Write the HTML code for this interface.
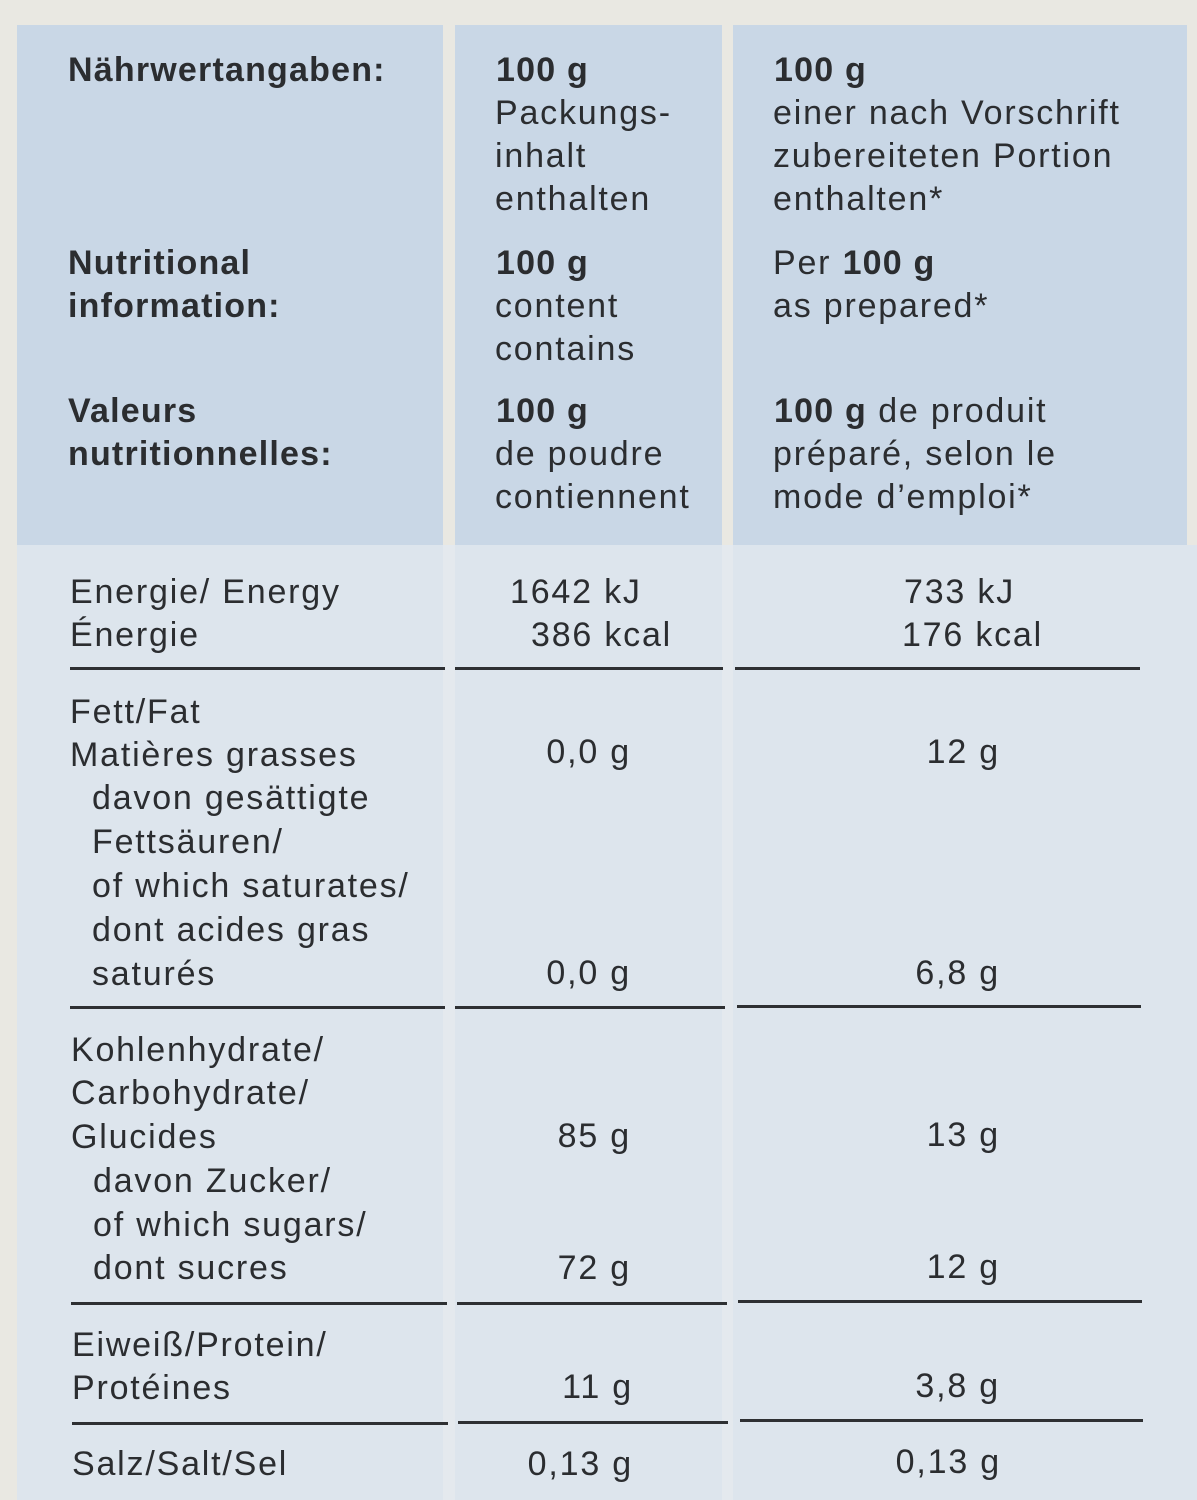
<!DOCTYPE html>
<html><head><meta charset="utf-8"><style>
html,body{margin:0;padding:0}
body{width:1197px;height:1500px;position:relative;overflow:hidden;background:#e9e8e2;font-family:"Liberation Sans",sans-serif;color:#2b2d30}
.b{position:absolute}
.t{position:absolute;white-space:nowrap;font-size:34px;line-height:40px;letter-spacing:1.8px}
.r{text-align:right}
.bold{font-weight:bold;letter-spacing:1.2px}
.l{position:absolute;height:3px;background:#2e3033}
</style></head><body>
<div class="b" style="left:17px;top:545px;width:1180px;height:955px;background:#dde5ed"></div>
<div class="b" style="left:17px;top:25px;width:426px;height:520px;background:#c9d7e6"></div>
<div class="b" style="left:455px;top:25px;width:267px;height:520px;background:#c9d7e6"></div>
<div class="b" style="left:733px;top:25px;width:454px;height:520px;background:#c9d7e6"></div>
<div class="b" style="left:443px;top:545px;width:12px;height:955px;background:#e4e9ee"></div>
<div class="b" style="left:722px;top:545px;width:11px;height:955px;background:#e4e9ee"></div>

<div class="t bold" style="left:68px;top:50px">Nährwertangaben:</div>
<div class="t bold" style="left:68px;top:243px">Nutritional</div>
<div class="t bold" style="left:68px;top:286px">information:</div>
<div class="t bold" style="left:68px;top:391px">Valeurs</div>
<div class="t bold" style="left:68px;top:434px">nutritionnelles:</div>

<div class="t bold" style="left:496px;top:50px">100 g</div>
<div class="t" style="left:495px;top:93px">Packungs-</div>
<div class="t" style="left:495px;top:136px">inhalt</div>
<div class="t" style="left:495px;top:179px">enthalten</div>
<div class="t bold" style="left:496px;top:243px">100 g</div>
<div class="t" style="left:495px;top:286px">content</div>
<div class="t" style="left:495px;top:329px">contains</div>
<div class="t bold" style="left:496px;top:391px">100 g</div>
<div class="t" style="left:495px;top:434px">de poudre</div>
<div class="t" style="left:495px;top:477px">contiennent</div>

<div class="t bold" style="left:774px;top:50px">100 g</div>
<div class="t" style="left:773px;top:93px">einer nach Vorschrift</div>
<div class="t" style="left:773px;top:136px">zubereiteten Portion</div>
<div class="t" style="left:773px;top:179px">enthalten*</div>
<div class="t" style="left:773px;top:243px">Per <b style="letter-spacing:1.2px">100 g</b></div>
<div class="t" style="left:773px;top:286px">as prepared*</div>
<div class="t" style="left:774px;top:391px"><b style="letter-spacing:1.2px">100 g</b> de produit</div>
<div class="t" style="left:773px;top:434px">préparé, selon le</div>
<div class="t" style="left:773px;top:477px">mode d’emploi*</div>

<div class="t" style="left:70px;top:572px">Energie/ Energy</div>
<div class="t" style="left:70px;top:615px">Énergie</div>
<div class="t" style="left:510px;top:572px">1642 kJ</div>
<div class="t" style="left:531px;top:615px">386 kcal</div>
<div class="t r" style="right:182px;top:572px">733 kJ</div>
<div class="t r" style="right:154px;top:615px">176 kcal</div>
<div class="l" style="left:70px;top:667px;width:375px"></div>
<div class="l" style="left:455px;top:667px;width:268px"></div>
<div class="l" style="left:735px;top:667px;width:405px"></div>

<div class="t" style="left:70px;top:692px">Fett/Fat</div>
<div class="t" style="left:70px;top:735px">Matières grasses</div>
<div class="t" style="left:92px;top:778px">davon gesättigte</div>
<div class="t" style="left:92px;top:822px">Fettsäuren/</div>
<div class="t" style="left:92px;top:866px">of which saturates/</div>
<div class="t" style="left:92px;top:910px">dont acides gras</div>
<div class="t" style="left:92px;top:954px">saturés</div>
<div class="t r" style="right:566px;top:732px">0,0 g</div>
<div class="t r" style="right:197px;top:732px">12 g</div>
<div class="t r" style="right:566px;top:953px">0,0 g</div>
<div class="t r" style="right:197px;top:953px">6,8 g</div>
<div class="l" style="left:70px;top:1006px;width:375px"></div>
<div class="l" style="left:455px;top:1006px;width:270px"></div>
<div class="l" style="left:737px;top:1005px;width:404px"></div>

<div class="t" style="left:71px;top:1030px">Kohlenhydrate/</div>
<div class="t" style="left:71px;top:1073px">Carbohydrate/</div>
<div class="t" style="left:71px;top:1117px">Glucides</div>
<div class="t" style="left:93px;top:1161px">davon Zucker/</div>
<div class="t" style="left:93px;top:1205px">of which sugars/</div>
<div class="t" style="left:93px;top:1248px">dont sucres</div>
<div class="t r" style="right:566px;top:1116px">85 g</div>
<div class="t r" style="right:197px;top:1115px">13 g</div>
<div class="t r" style="right:566px;top:1248px">72 g</div>
<div class="t r" style="right:197px;top:1247px">12 g</div>
<div class="l" style="left:71px;top:1302px;width:376px"></div>
<div class="l" style="left:457px;top:1302px;width:270px"></div>
<div class="l" style="left:738px;top:1300px;width:404px"></div>

<div class="t" style="left:72px;top:1325px">Eiweiß/Protein/</div>
<div class="t" style="left:72px;top:1368px">Protéines</div>
<div class="t r" style="right:564px;top:1367px">11 g</div>
<div class="t r" style="right:197px;top:1366px">3,8 g</div>
<div class="l" style="left:72px;top:1422px;width:376px"></div>
<div class="l" style="left:458px;top:1421px;width:270px"></div>
<div class="l" style="left:740px;top:1419px;width:403px"></div>

<div class="t" style="left:72px;top:1444px">Salz/Salt/Sel</div>
<div class="t r" style="right:564px;top:1444px">0,13 g</div>
<div class="t r" style="right:196px;top:1442px">0,13 g</div>
</body></html>
